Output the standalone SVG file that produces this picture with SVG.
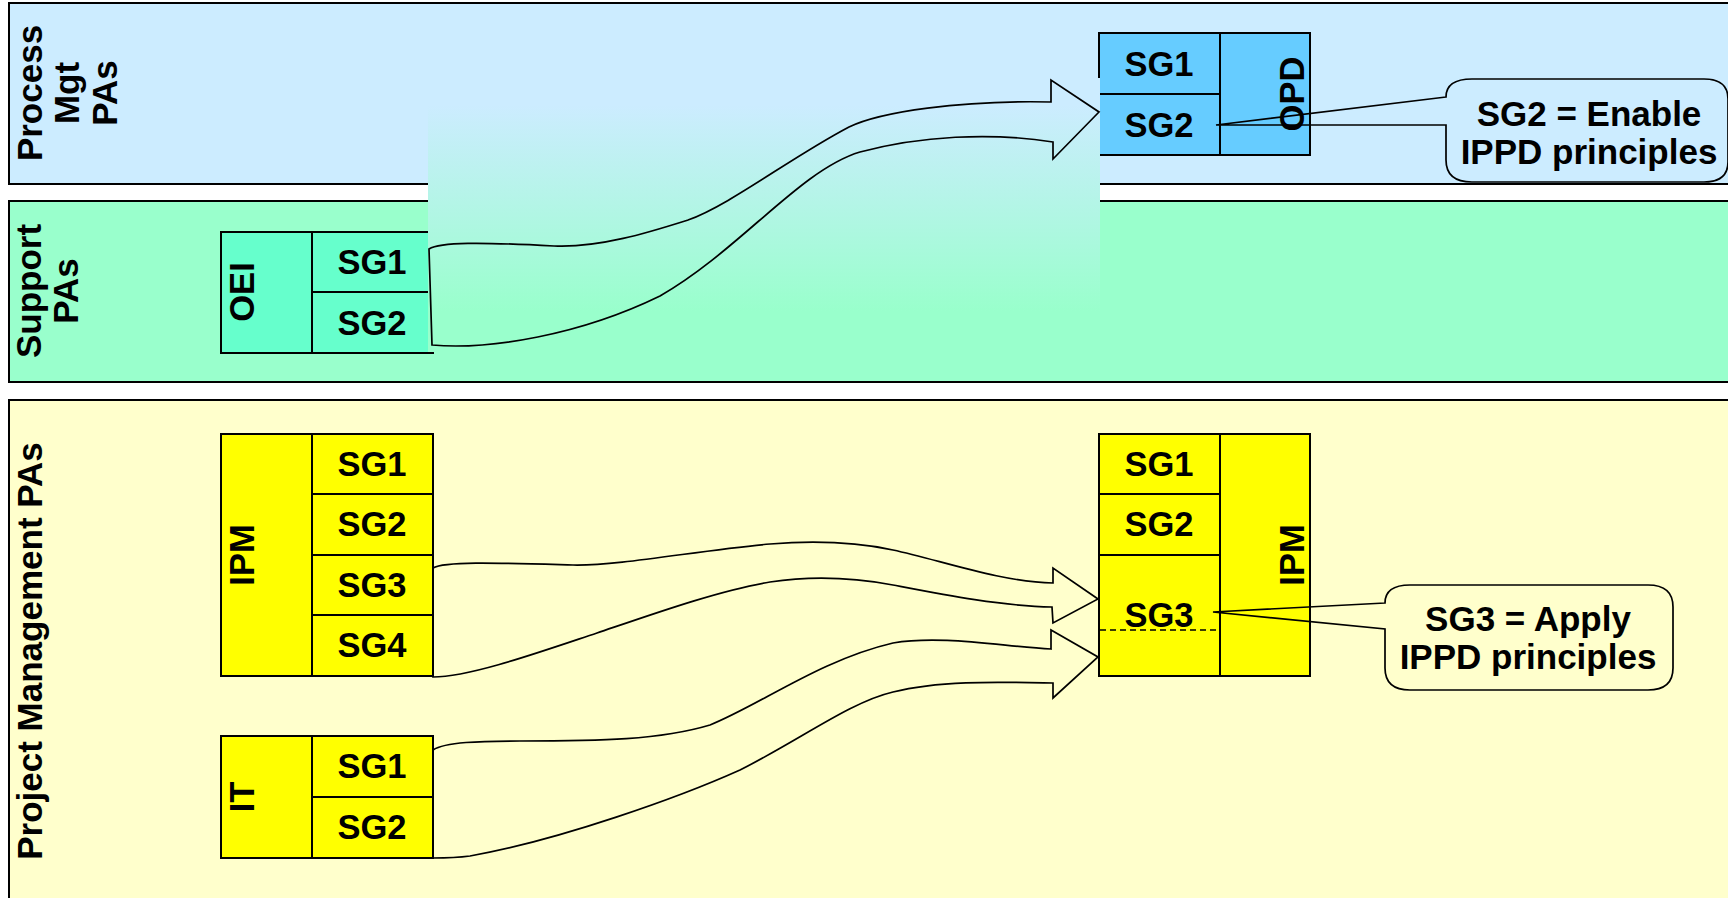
<svg xmlns="http://www.w3.org/2000/svg" width="1728" height="898" viewBox="0 0 1728 898">
<style>
.band{stroke:#000;stroke-width:2}
.box{stroke:#000;stroke-width:2}
.t{font-family:"Liberation Sans",Arial,Helvetica,sans-serif;font-weight:bold;font-size:34.5px;text-anchor:middle;fill:#000}
.bl{font-size:35px}
.co{font-size:35px}
.arrow{fill:none;stroke:#000;stroke-width:1.7;stroke-linejoin:miter}
.callout{fill:none;stroke:#000;stroke-width:1.7}
.y{fill:#FFFF00}
.g{fill:#66FFCC}
.b{fill:#66CCFF}
</style>
<defs>
<linearGradient id="fade" x1="0" y1="0" x2="0" y2="1">
<stop offset="0.1" stop-color="#CCECFF"/>
<stop offset="0.85" stop-color="#99FFCC"/>
</linearGradient>
</defs>
<rect width="1728" height="898" fill="#fff"/>
<g id="band-process">
<rect class="band" x="9" y="3" width="1740" height="181" fill="#CCECFF"/>
<text class="t bl" transform="translate(42,93) rotate(-90)">Process</text>
<text class="t bl" transform="translate(79,93) rotate(-90)">Mgt</text>
<text class="t bl" transform="translate(117,93) rotate(-90)">PAs</text>
</g>
<g id="band-support">
<rect class="band" x="9" y="201" width="1740" height="181" fill="#99FFCC"/>
<text class="t bl" transform="translate(41,291) rotate(-90)">Support</text>
<text class="t bl" transform="translate(78,291) rotate(-90)">PAs</text>
</g>
<g id="band-pm">
<rect class="band" x="9" y="400" width="1740" height="520" fill="#FFFFCC"/>
<text class="t bl" transform="translate(42,651) rotate(-90)">Project Management PAs</text>
</g>
<g id="node-oei">
<rect class="box g" x="221" y="232" width="91" height="121"/>
<rect class="box g" x="312" y="232" width="121" height="60"/>
<rect class="box g" x="312" y="292" width="121" height="61"/>
<text class="t" transform="translate(254,292) rotate(-90)">OEI</text>
<text class="t" x="372" y="274">SG1</text>
<text class="t" x="372" y="335">SG2</text>
</g>
<g id="node-opd">
<rect class="box b" x="1220" y="33" width="90" height="122"/>
<rect class="box b" x="1099" y="33" width="121" height="61"/>
<rect class="box b" x="1099" y="94" width="121" height="61"/>
<text class="t" transform="translate(1304,94) rotate(-90)">OPD</text>
<text class="t" x="1159" y="76">SG1</text>
<text class="t" x="1159" y="137">SG2</text>
</g>
<rect id="transition" x="428" y="78" width="672" height="274" fill="url(#fade)"/>
<g id="node-ipm-left">
<rect class="box y" x="221" y="434" width="91" height="242"/>
<rect class="box y" x="312" y="434" width="121" height="60"/>
<rect class="box y" x="312" y="494" width="121" height="61"/>
<rect class="box y" x="312" y="555" width="121" height="60"/>
<rect class="box y" x="312" y="615" width="121" height="61"/>
<text class="t" transform="translate(254,555) rotate(-90)">IPM</text>
<text class="t" x="372" y="476">SG1</text>
<text class="t" x="372" y="536">SG2</text>
<text class="t" x="372" y="597">SG3</text>
<text class="t" x="372" y="657">SG4</text>
</g>
<g id="node-it">
<rect class="box y" x="221" y="736" width="91" height="122"/>
<rect class="box y" x="312" y="736" width="121" height="61"/>
<rect class="box y" x="312" y="797" width="121" height="61"/>
<text class="t" transform="translate(254,797) rotate(-90)">IT</text>
<text class="t" x="372" y="778">SG1</text>
<text class="t" x="372" y="839">SG2</text>
</g>
<g id="node-ipm-right">
<rect class="box y" x="1220" y="434" width="90" height="242"/>
<rect class="box y" x="1099" y="434" width="121" height="60"/>
<rect class="box y" x="1099" y="494" width="121" height="61"/>
<rect class="box y" x="1099" y="555" width="121" height="121"/>
<line x1="1100" y1="630" x2="1219" y2="630" stroke="#000" stroke-width="1.5" stroke-dasharray="6 4"/>
<text class="t" transform="translate(1304,555) rotate(-90)">IPM</text>
<text class="t" x="1159" y="476">SG1</text>
<text class="t" x="1159" y="536">SG2</text>
<text class="t" x="1159" y="627">SG3</text>
</g>
<g id="connectors">
<path class="arrow" d="M429,249 C440,242 480,242 554,246 C600,248 650,232 688,220 C730,205 790,158 849,127 C880,112 960,100 1051,102 L1051,80 L1099,112 L1053,159 L1053,142 C990,132 920,136 860,152 C800,170 740,250 660,296 C580,335 490,350 432,345 Z"/>
<path class="arrow" d="M433,568 C445,561 500,563 573,565 C620,566 700,550 770,544 C820,540 860,543 893,550 C940,560 1000,582 1053,583 L1053,568 L1098,599 L1053,623 L1052,607 C1000,606 940,594 893,585 C850,577 810,576 770,582 C720,590 650,615 597,633 C540,652 470,677 433,677 Z"/>
<path class="arrow" d="M433,750 C445,742 480,741 520,741 C600,741 660,740 710,725 C760,705 820,660 893,643 C940,635 1000,646 1051,649 L1051,630 L1098,657 L1053,698 L1053,683 C1000,682 940,680 893,692 C850,702 800,740 740,770 C680,797 560,840 470,856 C455,858 440,858 433,858 Z"/>
</g>
<g id="callout-sg2">
<path class="callout" d="M1446,97 L1216,125 L1446,125 L1446,160 Q1446,182 1472,182 L1704,182 Q1728,182 1728,162 L1728,99 Q1728,79 1704,79 L1472,79 Q1446,79 1446,97 Z"/>
<text class="t co" x="1589" y="126">SG2 = Enable</text>
<text class="t co" x="1589" y="164">IPPD principles</text>
</g>
<g id="callout-sg3">
<path class="callout" d="M1385,603 L1213,612 L1385,629 L1385,668 Q1385,690 1410,690 L1648,690 Q1673,690 1673,668 L1673,607 Q1673,585 1648,585 L1410,585 Q1385,585 1385,603 Z"/>
<text class="t co" x="1528" y="631">SG3 = Apply</text>
<text class="t co" x="1528" y="669">IPPD principles</text>
</g>
</svg>
